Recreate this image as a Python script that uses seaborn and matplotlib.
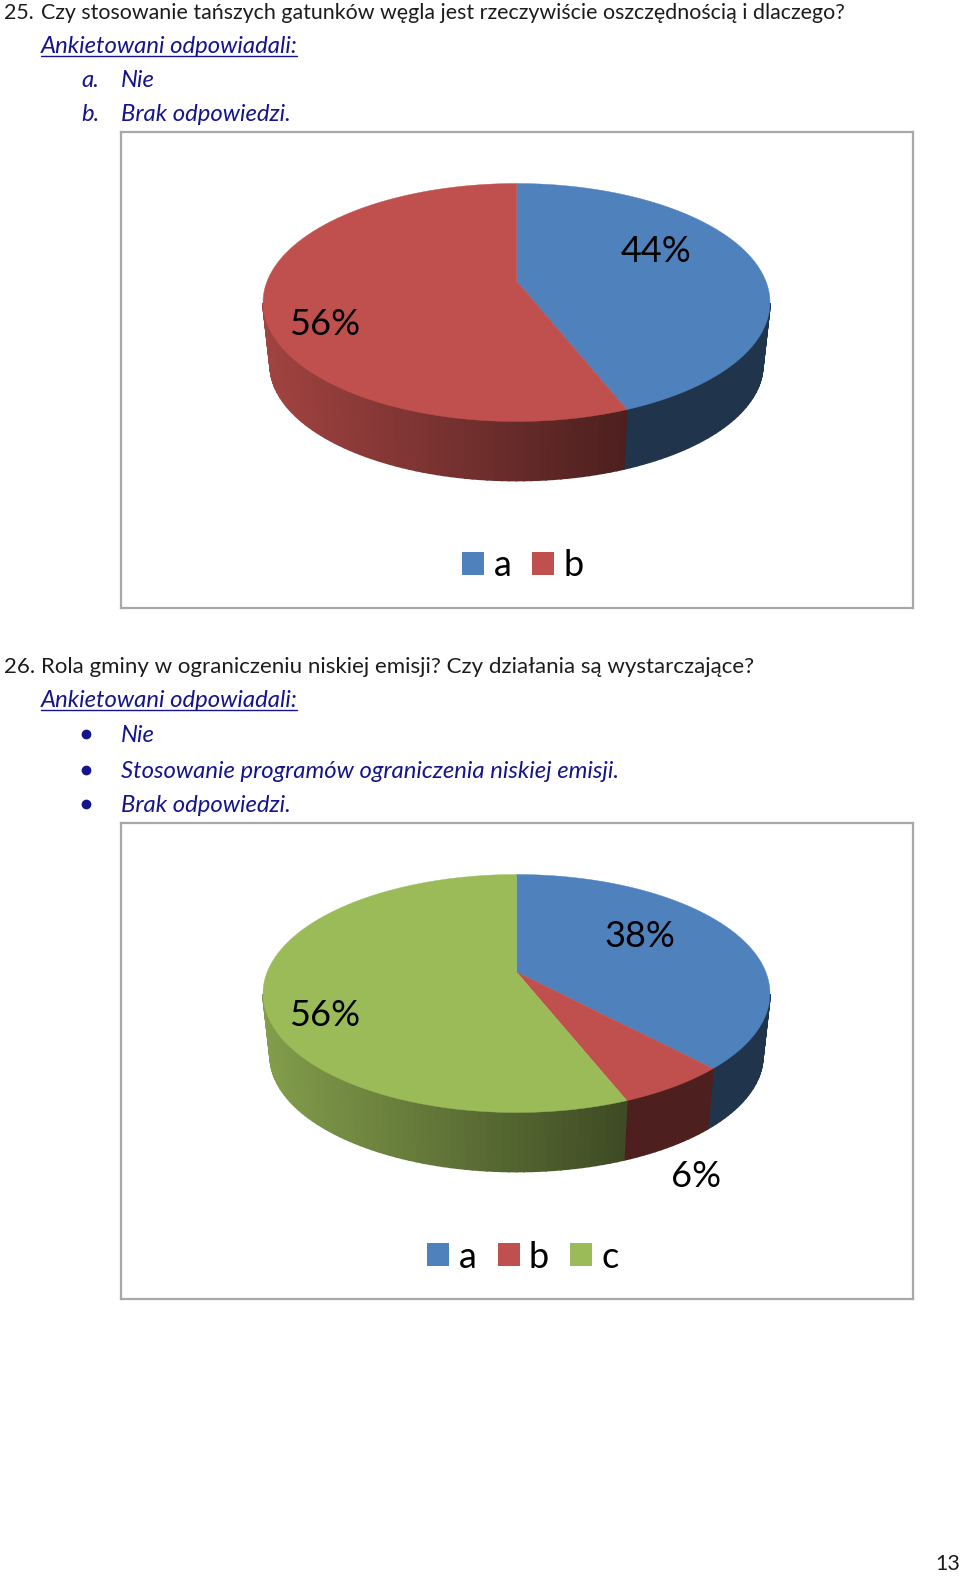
import numpy as np
import matplotlib
matplotlib.use("Agg")
import matplotlib.pyplot as plt
from matplotlib.lines import Line2D
from matplotlib.patches import Patch
import seaborn as sns

# values
labels_25 = ["a", "b"]
values_25 = [44, 56]
labels_26 = ["a", "b", "c"]
values_26 = [38, 6, 56]
colors = ["#4F81BD", "#C0504D", "#9BBB59"]

W, H = 960, 1582
NAVY = "#14148C"
INK = "#1c1c1c"
ITALIC = 17.2

sns.set_theme(style="white")
plt.rcParams["font.family"] = ["Lato", "DejaVu Sans"]

fig = plt.figure(figsize=(W / 100, H / 100), dpi=100, facecolor="white")


def page_text(x, y, s, **kw):
    # x, y in page pixels from top left, y is the baseline
    kw.setdefault("fontsize", 15.4)
    kw.setdefault("color", INK)
    fig.text(x / W, 1 - y / H, s, va="baseline", ha="left", **kw)


def nav_text(x, y, s):
    page_text(x, y, s, color=NAVY, style="italic", fontsize=ITALIC)


def page_line(x0, x1, y):
    fig.add_artist(Line2D([x0 / W, x1 / W], [1 - y / H, 1 - y / H], color=NAVY, lw=1.0))


# perspective of the tilted disc, fitted to the reference
CX, AX, BY, K = 395.5, 249.3, 115.1, 0.1807
SHRINK = 0.972


def project(theta, y0, s=1.0):
    u, v = np.sin(theta), np.cos(theta)
    w = 1 + K * v
    return CX + s * AX * u / w, y0 - s * BY * v / w


def side_shade(x):
    # lighter on the left of the wall, dark from the front edge onwards
    t = np.clip((x - (CX - AX * 1.02)) / 362, 0, 1)
    return 0.84 - 0.44 * t


def draw_pie(left, top, right, bottom, values, cols, pct_pos, names, legend_xy):
    ax = fig.add_axes([left / W, 1 - bottom / H, (right - left) / W, (bottom - top) / H])
    width, height = right - left, bottom - top
    ax.set_xlim(0, width)
    ax.set_ylim(height, 0)
    ax.set_xticks([])
    ax.set_yticks([])
    for sp in ax.spines.values():
        sp.set_color("#A8A8A8")
        sp.set_linewidth(1.6)

    y_top = 149
    y_bot = y_top + 63
    edges = np.cumsum([0] + list(values)) / sum(values) * 2 * np.pi

    # side wall, only the part facing the viewer
    for i in range(len(values)):
        n = max(int((edges[i + 1] - edges[i]) * 40), 2)
        th = np.linspace(edges[i], edges[i + 1], n + 1)
        for a, b in zip(th[:-1], th[1:]):
            if np.cos((a + b) / 2) > -K:
                continue
            xa, ya = project(a, y_top)
            xb, yb = project(b, y_top)
            xc, yc = project(b, y_bot, SHRINK)
            xd, yd = project(a, y_bot, SHRINK)
            f = side_shade((xa + xb) / 2)
            shade = tuple(np.array(matplotlib.colors.to_rgb(cols[i])) * f)
            ax.fill([xa, xb, xc, xd], [ya, yb, yc, yd], color=shade, lw=1.2)

    # top face
    for i in range(len(values)):
        th = np.linspace(edges[i], edges[i + 1], 200)
        xs, ys = project(th, y_top)
        ax.fill(np.r_[CX, xs], np.r_[y_top, ys], color=cols[i], lw=0.3)

    for (px, py), v in zip(pct_pos, values):
        ax.text(px, py, f"{v}%", fontsize=26, color="black", ha="center", va="baseline")

    handles = [Patch(facecolor=c, edgecolor="none", label=n) for c, n in zip(cols, names)]
    ax.legend(handles=handles, ncol=len(names), loc="center", frameon=False,
              bbox_to_anchor=(legend_xy[0] / width, 1 - legend_xy[1] / height),
              fontsize=26, labelcolor="black", handlelength=0.61, handleheight=0.61,
              handletextpad=0.26, columnspacing=0.58, borderpad=0)


# first question
page_text(4, 19, "25.")
page_text(41, 19, "Czy stosowanie tańszych gatunków węgla jest rzeczywiście oszczędnością i dlaczego?")
nav_text(41, 53, "Ankietowani odpowiadali:")
page_line(41, 297, 56)
nav_text(81, 87, "a.")
nav_text(121, 87, "Nie")
nav_text(81, 121, "b.")
nav_text(121, 121, "Brak odpowiedzi.")

draw_pie(121, 132, 913, 608, values_25, colors[:2],
         [(535, 130), (204, 203)], labels_25, (402, 434))

# second question
page_text(4, 673, "26.", fontsize=16.0)
page_text(41, 673, "Rola gminy w ograniczeniu niskiej emisji? Czy działania są wystarczające?", fontsize=16.0)
nav_text(41, 707, "Ankietowani odpowiadali:")
page_line(41, 297, 710)
items_26 = ["Nie", "Stosowanie programów ograniczenia niskiej emisji.", "Brak odpowiedzi."]
for y, s in zip([742, 778, 812], items_26):
    fig.add_artist(Line2D([86 / W], [1 - (y - 8) / H], marker="o", ms=6, color=NAVY, lw=0))
    nav_text(121, y, s)

draw_pie(121, 823, 913, 1299, values_26, colors,
         [(519, 124), (575, 364), (204, 203)], labels_26, (402, 434))

page_text(935, 1570, "13")

fig.savefig("out.png", dpi=100)
